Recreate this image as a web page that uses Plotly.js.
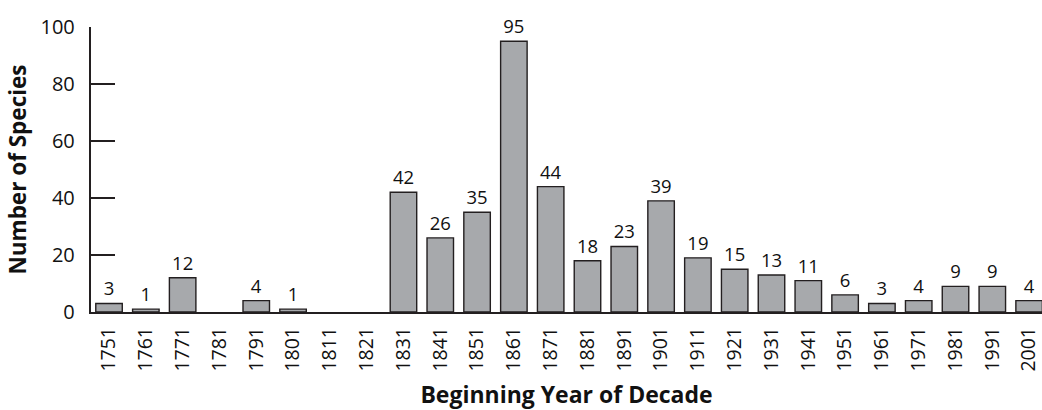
<!DOCTYPE html>
<html>
<head>
<meta charset="utf-8">
<script src="https://cdn.plot.ly/plotly-3.0.1.min.js"></script>
<style>html,body{margin:0;padding:0;background:#fff;}#chart{width:1042px;height:410px;}</style>
</head>
<body>
<div id="chart"></div>
<script>
const decades = ["1751","1761","1771","1781","1791","1801","1811","1821","1831","1841","1851","1861","1871","1881","1891","1901","1911","1921","1931","1941","1951","1961","1971","1981","1991","2001"];
const species = [3,1,12,0,4,1,0,0,42,26,35,95,44,18,23,39,19,15,13,11,6,3,4,9,9,4];
const labels = species.map(v => v > 0 ? String(v) : "");

const FONT = "Open Sans, Liberation Sans, sans-serif";

Plotly.newPlot("chart", [{
  type: "bar",
  x: decades,
  y: species,
  text: labels,
  textposition: "outside",
  textfont: {family: FONT, size: 18.5, color: "#111"},
  cliponaxis: false,
  marker: {color: "#a7a9ac", line: {color: "#231f20", width: species.map(v => v > 0 ? 1.4 : 0)}},
  hoverinfo: "none"
}], {
  width: 1042, height: 410,
  margin: {l: 91, r: 0, t: 27, b: 98},
  paper_bgcolor: "#fff", plot_bgcolor: "#fff",
  bargap: 0.28,
  showlegend: false,
  font: {family: FONT, color: "#111"},
  xaxis: {
    type: "category",
    range: [-0.49, 25.35],
    showline: true, linecolor: "#231f20", linewidth: 2.2,
    ticks: "", tickangle: -90,
    ticklabelstandoff: 5,
    tickfont: {family: FONT, size: 19.5, color: "#111"},
    showgrid: false, zeroline: false,
    title: {text: "<b>Beginning Year of Decade</b>", font: {family: FONT, size: 23, color: "#111"}, standoff: 18}
  },
  yaxis: {
    range: [0, 100],
    tickvals: [0,20,40,60,80,100],
    showline: true, linecolor: "#231f20", linewidth: 2.2,
    ticks: "inside", ticklen: 24, tickwidth: 2.2, tickcolor: "#231f20",
    ticklabelstandoff: 10,
    tickfont: {family: FONT, size: 20, color: "#111"},
    showgrid: false, zeroline: false,
    title: {text: "<b>Number of Species</b>", font: {family: FONT, size: 22.5, color: "#111"}, standoff: 8}
  }
}, {staticPlot: true});
</script>
</body>
</html>
